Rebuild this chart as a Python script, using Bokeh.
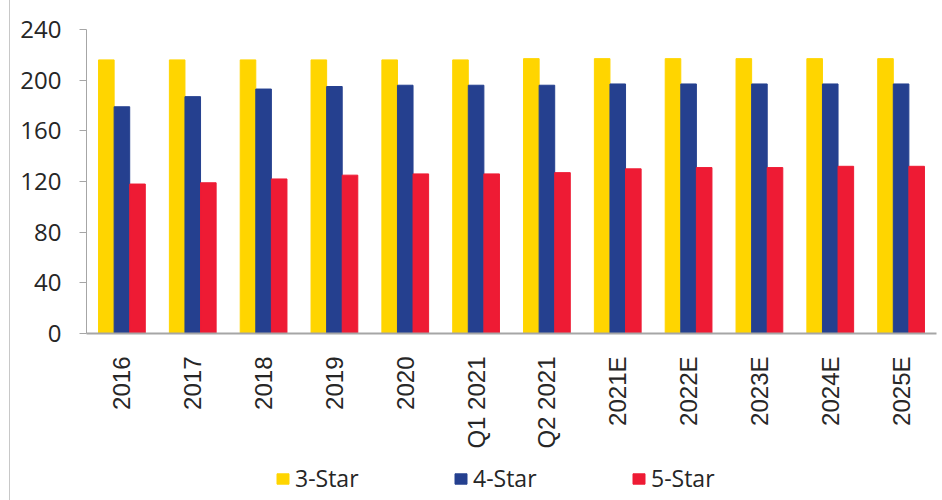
from bokeh.plotting import figure
from bokeh.models import ColumnDataSource, FactorRange, Legend, LegendItem, FixedTicker
from bokeh.layouts import column
from bokeh.transform import dodge
from bokeh.embed import file_html
from bokeh.resources import INLINE
import math

categories = ["2016", "2017", "2018", "2019", "2020", "Q1 2021", "Q2 2021",
              "2021E", "2022E", "2023E", "2024E", "2025E"]
star3 = [216, 216, 216, 216, 216, 216, 217, 217, 217, 217, 217, 217]
star4 = [179, 187, 193, 195, 196, 196, 196, 197, 197, 197, 197, 197]
star5 = [118, 119, 122, 125, 126, 126, 127, 130, 131, 131, 132, 132]
series_names = ["3-Star", "4-Star", "5-Star"]
y_ticks = [0, 40, 80, 120, 160, 200, 240]

colors = ["#FFD500", "#25408F", "#EE1B34"]

src = ColumnDataSource(dict(cat=categories, s3=star3, s4=star4, s5=star5))

p = figure(x_range=FactorRange(*categories), y_range=(0, 240),
           width=927, height=460, output_backend="svg", toolbar_location=None,
           min_border_left=76, min_border_right=1, min_border_top=29, min_border_bottom=127)

w = 0.22
p.vbar(x=dodge("cat", -w, range=p.x_range), top="s3", width=w, source=src,
       fill_color=colors[0], line_color=colors[0])
p.vbar(x=dodge("cat", 0, range=p.x_range), top="s4", width=w, source=src,
       fill_color=colors[1], line_color=colors[1])
p.vbar(x=dodge("cat", w, range=p.x_range), top="s5", width=w, source=src,
       fill_color=colors[2], line_color=colors[2])

p.outline_line_color = None
p.xgrid.grid_line_color = None
p.ygrid.grid_line_color = None
p.x_range.range_padding = 0

p.yaxis.ticker = FixedTicker(ticks=y_ticks)
p.yaxis.axis_line_color = "#a6a6a6"
p.yaxis.major_tick_line_color = "#a6a6a6"
p.yaxis.major_tick_out = 7
p.yaxis.major_tick_in = 0
p.yaxis.minor_tick_line_color = None
p.yaxis.major_label_standoff = 18
p.yaxis.major_label_text_font = "Open Sans"
p.yaxis.major_label_text_font_size = "24px"
p.yaxis.major_label_text_color = "#262626"

p.xaxis.axis_line_color = "#a6a6a6"
p.xaxis.axis_line_width = 2
p.xaxis.major_tick_line_color = None
p.xaxis.minor_tick_line_color = None
p.xaxis.major_label_orientation = math.pi / 2
p.xaxis.major_label_standoff = 17
p.xaxis.major_label_text_font = "Liberation Sans"
p.xaxis.major_label_text_font_size = "24px"
p.xaxis.major_label_text_color = "#262626"

# legend strip below the chart (its frame is aligned with the chart's frame)
leg = figure(width=927, height=40, x_range=(0, 1), y_range=(0, 1),
             output_backend="svg", toolbar_location=None, min_border=0)
leg.axis.visible = False
leg.grid.visible = False
leg.outline_line_color = None
placeholder = ColumnDataSource(dict(x=[float("nan")], top=[float("nan")]))
lr = [leg.vbar(x="x", top="top", width=0.1, source=placeholder,
               fill_color=c, line_color=c) for c in colors]

legend = Legend(items=[LegendItem(label=n, renderers=[r]) for n, r in zip(series_names, lr)],
                orientation="horizontal", location=(189, 6),
                glyph_width=15, glyph_height=13, label_standoff=5,
                label_width=64, spacing=94, padding=0, margin=0,
                border_line_color=None, background_fill_alpha=0,
                label_text_font="Open Sans", label_text_font_size="23px",
                label_text_color="#262626")
leg.add_layout(legend, "center")

layout = column(p, leg, spacing=0)
layout.styles = {"border-left": "1px solid #c8c8c8", "margin-left": "9px"}

open("out.html", "w").write(file_html(layout, INLINE))
